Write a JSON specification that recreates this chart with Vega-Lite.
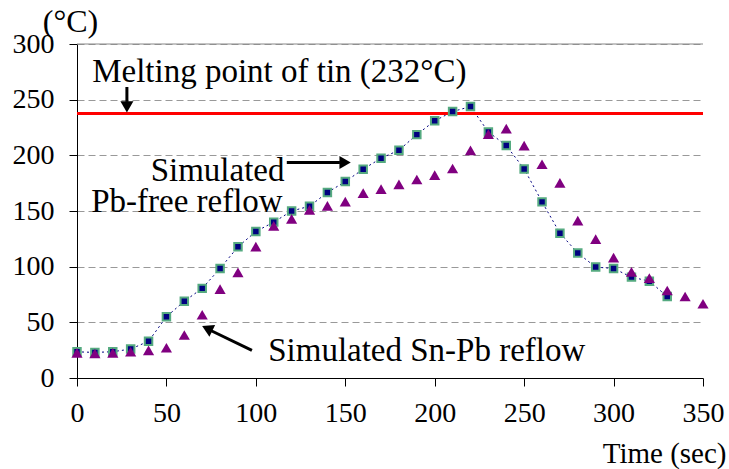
{
  "$schema": "https://vega.github.io/schema/vega-lite/v6.json",
  "width": 626,
  "height": 334,
  "autosize": "none",
  "padding": {"left": 77, "top": 44, "right": 26, "bottom": 91},
  "config": {"view": {"stroke": null}, "font": "Liberation Serif", "text": {"font": "Liberation Serif"}, "axis": {"labelFont": "Liberation Serif", "titleFont": "Liberation Serif"}},
  "datasets": {
    "pbfree": [
      {"t": 0, "temp": 23.5}, {"t": 10, "temp": 23}, {"t": 20, "temp": 23.6}, {"t": 30, "temp": 26},
      {"t": 40, "temp": 33}, {"t": 50, "temp": 55}, {"t": 60, "temp": 69}, {"t": 70, "temp": 80.5},
      {"t": 80, "temp": 98.4}, {"t": 90, "temp": 117.8}, {"t": 100, "temp": 131.6}, {"t": 110, "temp": 140},
      {"t": 120, "temp": 150}, {"t": 130, "temp": 154.3}, {"t": 140, "temp": 166.6}, {"t": 150, "temp": 176.4},
      {"t": 160, "temp": 187.6}, {"t": 170, "temp": 197.4}, {"t": 180, "temp": 204.6}, {"t": 190, "temp": 218.6},
      {"t": 200, "temp": 231}, {"t": 210, "temp": 239.3}, {"t": 220, "temp": 243.8}, {"t": 230, "temp": 221},
      {"t": 240, "temp": 208.8}, {"t": 250, "temp": 187.8}, {"t": 260, "temp": 158.2}, {"t": 270, "temp": 130.1},
      {"t": 280, "temp": 112.2}, {"t": 290, "temp": 99.6}, {"t": 300, "temp": 98.4}, {"t": 310, "temp": 90.6},
      {"t": 320, "temp": 87}, {"t": 330, "temp": 73.2}
    ],
    "snpb": [
      {"t": 0, "temp": 22.5}, {"t": 10, "temp": 22}, {"t": 20, "temp": 22.5}, {"t": 30, "temp": 23.6},
      {"t": 40, "temp": 24.8}, {"t": 50, "temp": 27.2}, {"t": 60, "temp": 38.6}, {"t": 70, "temp": 56.8},
      {"t": 80, "temp": 79.9}, {"t": 90, "temp": 94.8}, {"t": 100, "temp": 118}, {"t": 110, "temp": 136.7},
      {"t": 120, "temp": 143}, {"t": 130, "temp": 151}, {"t": 140, "temp": 154.6}, {"t": 150, "temp": 158.5},
      {"t": 160, "temp": 166}, {"t": 170, "temp": 169.6}, {"t": 180, "temp": 173.9}, {"t": 190, "temp": 178.3},
      {"t": 200, "temp": 182.2}, {"t": 210, "temp": 188.2}, {"t": 220, "temp": 204.5}, {"t": 230, "temp": 219},
      {"t": 240, "temp": 224}, {"t": 250, "temp": 208.7}, {"t": 260, "temp": 192}, {"t": 270, "temp": 175.3},
      {"t": 280, "temp": 141.4}, {"t": 290, "temp": 124.7}, {"t": 300, "temp": 108.2}, {"t": 310, "temp": 95.4},
      {"t": 320, "temp": 89.7}, {"t": 330, "temp": 78.6}, {"t": 340, "temp": 73.2}, {"t": 350, "temp": 66.7}
    ],
    "shafts": [
      {"x": 27.9, "y": 261.4, "x2": 27.9, "y2": 248},
      {"x": 117.3, "y": 193.5, "x2": 147, "y2": 193.5},
      {"x": 97.8, "y": 24.8, "x2": 74.5, "y2": 42.9}
    ],
    "heads": [
      {"x": 27.9, "y": 243.5, "dir": 180},
      {"x": 149.9, "y": 193.5, "dir": 90},
      {"x": 72.8, "y": 44.5, "dir": 296}
    ],
    "leftlabels": [
      {"x": 8.5, "y": 266, "text": "Melting point of tin (232°C)"},
      {"x": 106.9, "y": 15.5, "text": "Simulated Sn-Pb reflow"}
    ],
    "rightlabels": [
      {"x": 116, "y": 177, "text": "Simulated"},
      {"x": 115, "y": 149, "text": "Pb-free reflow"}
    ],
    "melt": [{"temp": 237.5}],
    "top": [{"temp": 300}]
  },
  "layer": [
    {
      "data": {"name": "top"},
      "mark": {"type": "rule", "color": "#888888", "strokeWidth": 1},
      "encoding": {"y": {"field": "temp", "type": "quantitative", "scale": {"domain": [0, 300]}}}
    },
    {
      "data": {"name": "pbfree"},
      "mark": {"type": "line", "color": "#000080", "strokeWidth": 1, "strokeDash": [2, 3]},
      "encoding": {
        "x": {"field": "t", "type": "quantitative", "scale": {"domain": [0, 350], "nice": false},
          "axis": {"values": [0, 50, 100, 150, 200, 250, 300, 350], "title": "Time (sec)", "domainColor": "black", "tickColor": "black", "tickSize": 8, "labelFont": "Liberation Serif", "labelFontSize": 28, "labelColor": "black", "labelPadding": 13, "grid": false, "titleFont": "Liberation Serif", "titleFontSize": 29, "titleFontWeight": "normal", "titleColor": "black", "titleAngle": 0, "titleAlign": "right", "titleX": 649, "titleY": 84, "titleBaseline": "alphabetic", "labelFlush": false}},
        "y": {"field": "temp", "type": "quantitative", "scale": {"domain": [0, 300], "nice": false},
          "axis": {"values": [0, 50, 100, 150, 200, 250, 300], "title": "(°C)", "domainColor": "black", "tickColor": "black", "tickSize": 8, "labelFont": "Liberation Serif", "labelFontSize": 28, "labelColor": "black", "labelPadding": 15, "grid": true, "gridColor": "#999999", "gridDash": [7, 4], "gridWidth": 1, "titleFont": "Liberation Serif", "titleFontSize": 32, "titleFontWeight": "normal", "titleColor": "black", "titleAngle": 0, "titleAlign": "center", "titleX": -7, "titleY": -12.5, "titleBaseline": "alphabetic", "labelFlush": false}}
      }
    },
    {
      "data": {"name": "melt"},
      "mark": {"type": "rule", "color": "#ff0000", "strokeWidth": 3},
      "encoding": {"y": {"field": "temp", "type": "quantitative"}}
    },
    {
      "data": {"name": "pbfree"},
      "mark": {"type": "point", "shape": "square", "filled": true, "fill": "#000080", "stroke": "#55aa80", "strokeWidth": 2, "size": 56, "opacity": 1},
      "encoding": {"x": {"field": "t", "type": "quantitative"}, "y": {"field": "temp", "type": "quantitative"}}
    },
    {
      "data": {"name": "snpb"},
      "mark": {"type": "point", "shape": "triangle-up", "filled": true, "color": "#800080", "size": 125, "opacity": 1},
      "encoding": {"x": {"field": "t", "type": "quantitative"}, "y": {"field": "temp", "type": "quantitative"}}
    },
    {
      "data": {"name": "shafts"},
      "mark": {"type": "rule", "color": "black", "strokeWidth": 3},
      "encoding": {"x": {"field": "x", "type": "quantitative"}, "y": {"field": "y", "type": "quantitative"}, "x2": {"field": "x2"}, "y2": {"field": "y2"}}
    },
    {
      "data": {"name": "heads"},
      "mark": {"type": "point", "shape": "triangle-up", "filled": true, "color": "black", "size": 170, "opacity": 1},
      "encoding": {"x": {"field": "x", "type": "quantitative"}, "y": {"field": "y", "type": "quantitative"}, "angle": {"field": "dir", "type": "quantitative", "scale": null}}
    },
    {
      "data": {"name": "leftlabels"},
      "mark": {"type": "text", "font": "Liberation Serif", "fontSize": 33, "color": "black", "baseline": "alphabetic", "align": "left"},
      "encoding": {"x": {"field": "x", "type": "quantitative"}, "y": {"field": "y", "type": "quantitative"}, "text": {"field": "text"}}
    },
    {
      "data": {"name": "rightlabels"},
      "mark": {"type": "text", "font": "Liberation Serif", "fontSize": 33, "color": "black", "baseline": "alphabetic", "align": "right"},
      "encoding": {"x": {"field": "x", "type": "quantitative"}, "y": {"field": "y", "type": "quantitative"}, "text": {"field": "text"}}
    }
  ]
}
